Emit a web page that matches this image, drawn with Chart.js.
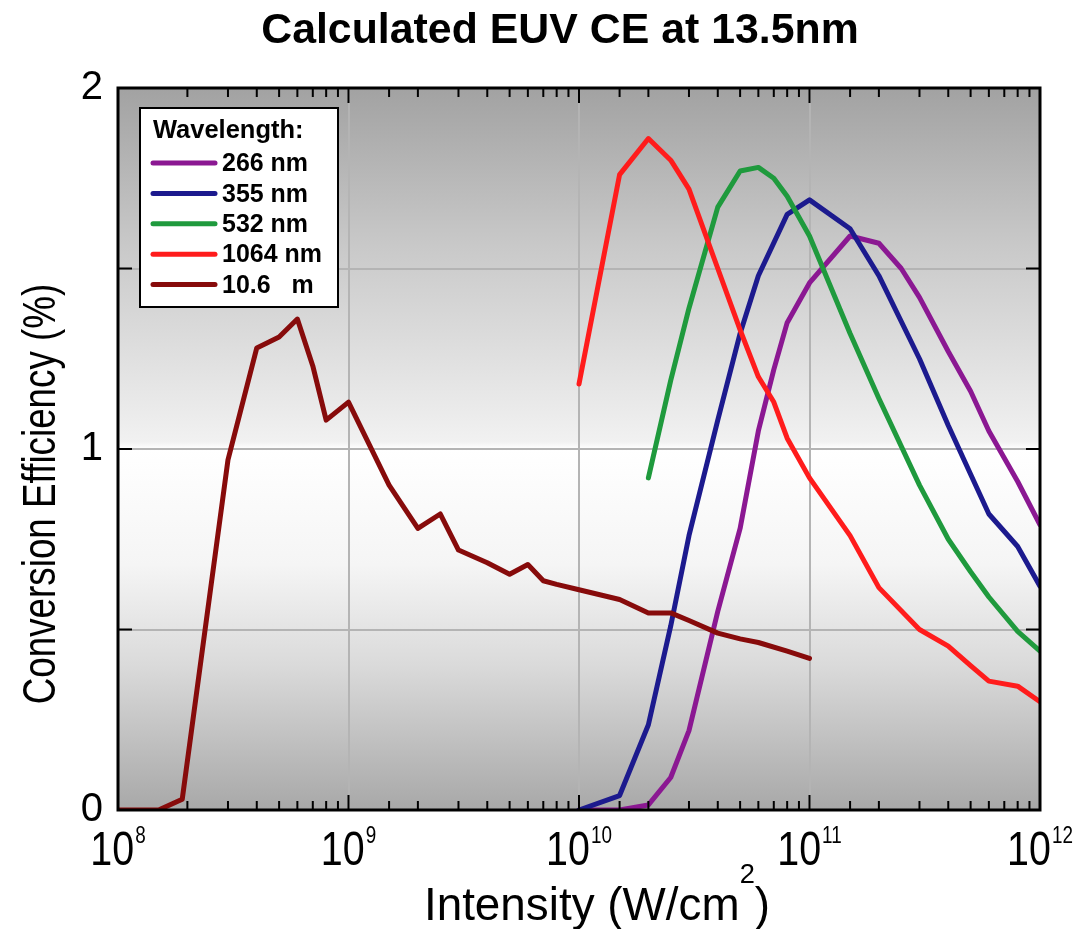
<!DOCTYPE html>
<html>
<head>
<meta charset="utf-8">
<script src="https://cdn.jsdelivr.net/npm/chart.js@4.4.0/dist/chart.umd.min.js"></script>
<style>
html,body{margin:0;padding:0;background:#ffffff;}
#wrap{width:1092px;height:929px;position:relative;}
</style>
</head>
<body>
<div id="wrap"><canvas id="c" width="1092" height="929"></canvas></div>
<script>
// ---------- text ----------
const chartTitle = 'Calculated EUV CE at 13.5nm';
const yAxisTitle = 'Conversion Efficiency (%)';
const xAxisTitleMain = 'Intensity (W/cm';
const xAxisTitleSup = '2';
const xAxisTitleEnd = ')';
const legendTitle = 'Wavelength:';
const seriesLabels = ['266 nm', '355 nm', '532 nm', '1064 nm', '10.6   m'];
const seriesColors = ['#8b1892', '#1c1a8e', '#1f9a3d', '#ff1c1c', '#870b0b'];

// ---------- tick labels ----------
const xTickValues = [1e8, 1e9, 1e10, 1e11, 1e12];
const xTickBase = ['10', '10', '10', '10', '10'];
const xTickExp = ['8', '9', '10', '11', '12'];
const yTickLabelValues = [0, 1, 2];

// ---------- data (intensity W/cm2, CE %) ----------
const x266 = [1e10, 1.5e10, 2e10, 2.5e10, 3e10, 4e10, 5e10, 6e10, 7e10, 8e10, 1e11, 1.5e11, 2e11, 2.5e11, 3e11, 4e11, 5e11, 6e11, 8e11, 1e12];
const ce266 = [0.0, 0.0, 0.014, 0.09, 0.22, 0.55, 0.78, 1.05, 1.22, 1.35, 1.46, 1.59, 1.57, 1.50, 1.42, 1.27, 1.16, 1.05, 0.91, 0.79];

const x355 = [1e10, 1.5e10, 2e10, 2.5e10, 3e10, 4e10, 5e10, 6e10, 8e10, 1e11, 1.5e11, 2e11, 3e11, 4e11, 5e11, 6e11, 8e11, 1e12];
const ce355 = [0.0, 0.04, 0.236, 0.51, 0.76, 1.08, 1.32, 1.48, 1.65, 1.69, 1.61, 1.48, 1.25, 1.065, 0.93, 0.82, 0.73, 0.62];

const x532 = [2e10, 2.5e10, 3e10, 4e10, 5e10, 6e10, 7e10, 8e10, 1e11, 1.5e11, 2e11, 3e11, 4e11, 5e11, 6e11, 8e11, 1e12];
const ce532 = [0.92, 1.19, 1.39, 1.67, 1.77, 1.78, 1.75, 1.70, 1.59, 1.32, 1.14, 0.90, 0.75, 0.66, 0.59, 0.495, 0.44];

const x1064 = [1e10, 1.5e10, 2e10, 2.5e10, 3e10, 4e10, 5e10, 6e10, 7e10, 8e10, 1e11, 1.5e11, 2e11, 3e11, 4e11, 5e11, 6e11, 8e11, 1e12];
const ce1064 = [1.18, 1.76, 1.86, 1.80, 1.72, 1.50, 1.33, 1.20, 1.13, 1.03, 0.92, 0.76, 0.616, 0.50, 0.454, 0.40, 0.357, 0.343, 0.30];

const x10600 = [1e8, 1.5e8, 1.9e8, 3e8, 4e8, 5e8, 6e8, 7e8, 8e8, 1e9, 1.5e9, 2e9, 2.5e9, 3e9, 4e9, 5e9, 6e9, 7e9, 8e9, 1e10, 1.5e10, 2e10, 2.5e10, 3e10, 4e10, 5e10, 6e10, 8e10, 1e11];
const ce10600 = [0.0, 0.0, 0.03, 0.97, 1.28, 1.31, 1.36, 1.23, 1.08, 1.13, 0.90, 0.78, 0.82, 0.72, 0.685, 0.653, 0.68, 0.635, 0.625, 0.61, 0.583, 0.546, 0.546, 0.525, 0.49, 0.474, 0.464, 0.44, 0.42];

const seriesX = [x266, x355, x532, x1064, x10600];
const seriesY = [ce266, ce355, ce532, ce1064, ce10600];
const drawOrder = [4, 3, 2, 1, 0];

const FONT = '"Liberation Sans", Arial, sans-serif';

function isDecade(v) {
  const l = Math.log10(v);
  return Math.abs(l - Math.round(l)) < 1e-6;
}

function drawScaledText(ctx, text, x, y, font, sx, align) {
  ctx.save();
  ctx.font = font;
  ctx.textAlign = align || 'left';
  ctx.translate(x, y);
  ctx.scale(sx, 1);
  ctx.fillText(text, 0, 0);
  ctx.restore();
}
function measureScaled(ctx, text, font, sx) {
  ctx.save(); ctx.font = font;
  const w = ctx.measureText(text).width * sx;
  ctx.restore();
  return w;
}

const bgPlugin = {
  id: 'bg',
  beforeDraw(chart) {
    const { ctx, chartArea: a } = chart;
    const g = ctx.createLinearGradient(0, a.top, 0, a.bottom);
    g.addColorStop(0, '#a2a2a2');
    g.addColorStop(0.22, '#c9c9c9');
    g.addColorStop(0.49, '#f1f1f1');
    g.addColorStop(0.5, '#ffffff');
    g.addColorStop(0.66, '#f5f5f5');
    g.addColorStop(0.8, '#dadada');
    g.addColorStop(1, '#a8a8a8');
    ctx.save();
    ctx.fillStyle = g;
    ctx.fillRect(a.left, a.top, a.right - a.left, a.bottom - a.top);
    ctx.restore();
  }
};

const decorPlugin = {
  id: 'decor',
  afterDatasetsDraw(chart) {
    const { ctx, chartArea: a, scales } = chart;
    const xs = scales.x, ys = scales.y;
    ctx.save();
    // inward ticks
    ctx.strokeStyle = '#000';
    ctx.lineWidth = 2;
    ctx.beginPath();
    xs.ticks.forEach(t => {
      const px = xs.getPixelForValue(t.value);
      if (px <= a.left + 1 || px >= a.right - 1) return;
      const len = isDecade(t.value) ? 15 : 9;
      ctx.moveTo(px, a.bottom); ctx.lineTo(px, a.bottom - len);
      ctx.moveTo(px, a.top); ctx.lineTo(px, a.top + len);
    });
    ys.ticks.forEach(t => {
      const py = ys.getPixelForValue(t.value);
      if (py <= a.top + 1 || py >= a.bottom - 1) return;
      ctx.moveTo(a.left, py); ctx.lineTo(a.left + 14, py);
      ctx.moveTo(a.right, py); ctx.lineTo(a.right - 14, py);
    });
    ctx.stroke();
    // frame
    ctx.lineWidth = 3;
    ctx.strokeRect(a.left, a.top, a.right - a.left, a.bottom - a.top);

    // legend
    const lx = 140, ly = 108, lw = 198, lh = 199;
    ctx.fillStyle = '#ffffff';
    ctx.fillRect(lx, ly, lw, lh);
    ctx.lineWidth = 2;
    ctx.strokeStyle = '#000';
    ctx.strokeRect(lx, ly, lw, lh);
    ctx.fillStyle = '#000';
    ctx.textBaseline = 'middle';
    drawScaledText(ctx, legendTitle, 153, 131, 'bold 26px ' + FONT, 0.98);
    chart.data.datasets.forEach((ds, i) => {
      const yy = 163 + i * 30.4;
      ctx.strokeStyle = ds.borderColor;
      ctx.lineWidth = 5;
      ctx.lineCap = 'round';
      ctx.beginPath(); ctx.moveTo(153, yy); ctx.lineTo(215, yy); ctx.stroke();
      ctx.fillStyle = '#000';
      drawScaledText(ctx, ds.label, 222, yy + 1, 'bold 26px ' + FONT, 0.96);
    });
    ctx.restore();
  },
  afterDraw(chart) {
    const { ctx, scales } = chart;
    const xs = scales.x;
    ctx.save();
    ctx.fillStyle = '#000';
    ctx.textBaseline = 'alphabetic';
    // title
    drawScaledText(ctx, chartTitle, 560, 43, 'bold 42px ' + FONT, 1.02, 'center');
    // x tick labels with superscript exponent
    const baseFont = '48px ' + FONT, supFont = '23px ' + FONT, sx = 0.82;
    xTickValues.forEach((v, i) => {
      const px = xs.getPixelForValue(v);
      const wb = measureScaled(ctx, xTickBase[i], baseFont, sx);
      const ws = measureScaled(ctx, xTickExp[i], supFont, sx);
      const x0 = px - (wb + 1 + ws) / 2;
      drawScaledText(ctx, xTickBase[i], x0, 865, baseFont, sx);
      drawScaledText(ctx, xTickExp[i], x0 + wb + 1, 843, supFont, sx);
    });
    // x axis title
    const tFont = '47px ' + FONT, tsFont = '28px ' + FONT, tsx = 0.975;
    const w1 = measureScaled(ctx, xAxisTitleMain, tFont, tsx);
    const w2 = measureScaled(ctx, xAxisTitleSup, tsFont, tsx);
    const w3 = measureScaled(ctx, xAxisTitleEnd, tFont, tsx);
    let tx = 597 - (w1 + w2 + w3) / 2;
    drawScaledText(ctx, xAxisTitleMain, tx, 920, tFont, tsx);
    drawScaledText(ctx, xAxisTitleSup, tx + w1, 883, tsFont, tsx);
    drawScaledText(ctx, xAxisTitleEnd, tx + w1 + w2, 920, tFont, tsx);
    // y axis title
    ctx.save();
    ctx.translate(42, 494);
    ctx.rotate(-Math.PI / 2);
    ctx.textBaseline = 'middle';
    drawScaledText(ctx, yAxisTitle, 0, 0, '46px ' + FONT, 0.8, 'center');
    ctx.restore();
    ctx.restore();
  }
};

const datasets = seriesLabels.map((lab, i) => ({
  label: lab,
  data: seriesX[i].map((x, j) => ({ x: x, y: seriesY[i][j] })),
  borderColor: seriesColors[i],
  backgroundColor: seriesColors[i],
  borderWidth: 5,
  pointRadius: 0,
  tension: 0,
  fill: false,
  borderJoinStyle: 'round',
  borderCapStyle: 'round',
  order: drawOrder[i]
}));

new Chart(document.getElementById('c'), {
  type: 'line',
  data: { datasets: datasets },
  plugins: [bgPlugin, decorPlugin],
  options: {
    responsive: false,
    animation: false,
    devicePixelRatio: 1,
    layout: { padding: { top: 88, right: 52, left: 0, bottom: 0 } },
    plugins: { legend: { display: false }, title: { display: false }, tooltip: { enabled: false } },
    scales: {
      x: {
        type: 'logarithmic',
        position: 'bottom',
        min: 1e8,
        max: 1e12,
        border: { display: false },
        grid: {
          color: ctx => (ctx.tick && isDecade(ctx.tick.value)) ? '#b4b4b4' : 'rgba(0,0,0,0)',
          lineWidth: 2,
          drawTicks: false
        },
        ticks: { display: false, autoSkip: false },
        afterFit: s => { s.height = 119; }
      },
      y: {
        type: 'linear',
        min: 0,
        max: 2,
        border: { display: false },
        grid: { color: '#b4b4b4', lineWidth: 2, drawTicks: false },
        ticks: {
          stepSize: 0.5,
          padding: 15,
          color: '#000',
          font: { family: FONT, size: 40 },
          callback: v => yTickLabelValues.includes(v) ? String(v) : ''
        },
        afterFit: s => { s.width = 118; }
      }
    }
  }
});
</script>
</body>
</html>
